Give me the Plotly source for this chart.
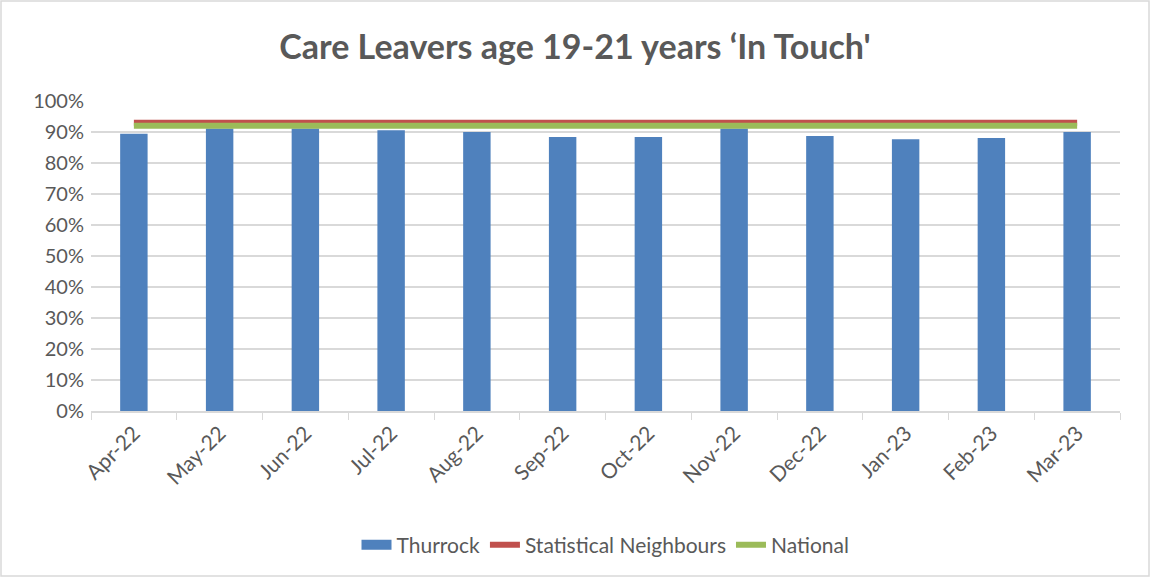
import plotly.graph_objects as go

months = ["Apr-22", "May-22", "Jun-22", "Jul-22", "Aug-22", "Sep-22",
          "Oct-22", "Nov-22", "Dec-22", "Jan-23", "Feb-23", "Mar-23"]
thurrock = [0.894, 0.911, 0.911, 0.906, 0.900, 0.884,
            0.884, 0.911, 0.887, 0.877, 0.881, 0.900]
stat_neighbours = [0.93] * 12
national = [0.92] * 12

W, H = 1150, 577
ML, MR, MT, MB = 91, 30, 101, 166
PW, PH = W - ML - MR, H - MT - MB

FONT = "Lato"
GREY = "#595959"
BLUE = "#4f81bd"

fig = go.Figure()
fig.add_trace(go.Bar(x=months, y=thurrock, name="Thurrock",
                     marker=dict(color=BLUE, line=dict(width=0)),
                     width=0.32, showlegend=False, legendgroup="t"))
# wide swatch for the bar series in the legend
fig.add_trace(go.Scatter(x=[months[0]], y=[None], name="Thurrock",
                         mode="lines", line=dict(color=BLUE, width=13),
                         legendgroup="t", hoverinfo="skip"))
fig.add_trace(go.Scatter(x=months, y=stat_neighbours, name="Statistical Neighbours",
                         mode="lines", line=dict(color="#c0504d", width=6)))
fig.add_trace(go.Scatter(x=months, y=national, name="National",
                         mode="lines", line=dict(color="#9bbb59", width=6)))

fig.update_layout(
    width=W, height=H,
    margin=dict(l=ML, r=MR, t=MT, b=MB),
    paper_bgcolor="white", plot_bgcolor="white",
    font=dict(family=FONT, color=GREY, size=20),
    title=dict(text="<b>Care Leavers age 19-21 years ‘In Touch'</b>",
               x=0.5, xanchor="center", y=1 - 47 / H, yanchor="middle",
               font=dict(family=FONT, size=34, color=GREY)),
    showlegend=True,
    legend=dict(orientation="h", x=0.5, xanchor="center",
                y=-(545 - (H - MB)) / PH, yanchor="middle",
                font=dict(family=FONT, size=21, color=GREY),
                traceorder="normal", itemwidth=30),
    xaxis=dict(type="category", showgrid=False, showline=True,
               linecolor="#d9d9d9", linewidth=1.5,
               ticks="outside", tickson="boundaries", ticklen=7,
               tickcolor="#d9d9d9", tickangle=-45,
               tickfont=dict(family=FONT, size=21, color=GREY)),
    yaxis=dict(range=[0, 1], dtick=0.1, tickformat=".0%",
               showgrid=True, gridcolor="#d9d9d9", gridwidth=1.5,
               zeroline=False, showline=False, ticks="",
               ticklabelstandoff=6,
               tickfont=dict(family=FONT, size=20, color=GREY)),
    shapes=[dict(type="rect", xref="paper", yref="paper",
                 x0=-(ML - 1) / PW, x1=(W - ML - 1) / PW,
                 y0=-(MB - 1) / PH, y1=(PH + MT - 1) / PH,
                 line=dict(color="#d9d9d9", width=1.5))],
)

fig.write_html("out.html")
